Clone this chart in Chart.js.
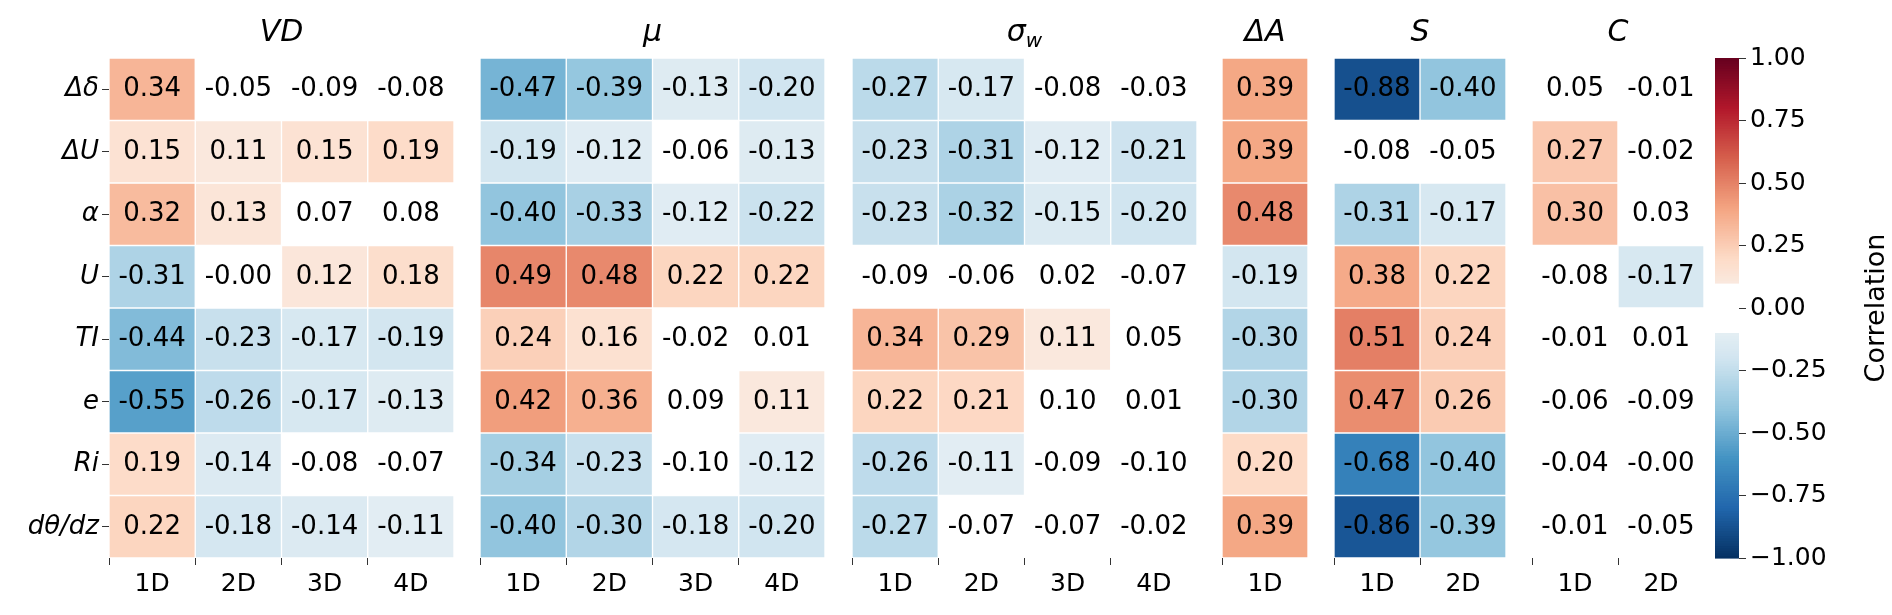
<!DOCTYPE html>
<html>
<head>
<meta charset="utf-8">
<script src="https://cdn.jsdelivr.net/npm/chart.js@4.4.1/dist/chart.umd.min.js"></script>
<style>
  body { margin: 0; background: #fff; }
  #wrap { position: relative; width: 1892px; height: 615px; }
  .panel { position: absolute; top: 0; height: 615px; }
</style>
</head>
<body>
<div id="wrap"></div>
<script>
const rowLabels = ['Δδ', 'ΔU', 'α', 'U', 'TI', 'e', 'Ri', 'dθ/dz'];

const vdCols = ['1D', '2D', '3D', '4D'];
const vdValues = [
  [0.34, -0.05, -0.09, -0.08],
  [0.15, 0.11, 0.15, 0.19],
  [0.32, 0.13, 0.07, 0.08],
  [-0.31, -0.00, 0.12, 0.18],
  [-0.44, -0.23, -0.17, -0.19],
  [-0.55, -0.26, -0.17, -0.13],
  [0.19, -0.14, -0.08, -0.07],
  [0.22, -0.18, -0.14, -0.11]
];
const muCols = ['1D', '2D', '3D', '4D'];
const muValues = [
  [-0.47, -0.39, -0.13, -0.20],
  [-0.19, -0.12, -0.06, -0.13],
  [-0.40, -0.33, -0.12, -0.22],
  [0.49, 0.48, 0.22, 0.22],
  [0.24, 0.16, -0.02, 0.01],
  [0.42, 0.36, 0.09, 0.11],
  [-0.34, -0.23, -0.10, -0.12],
  [-0.40, -0.30, -0.18, -0.20]
];
const sigmaCols = ['1D', '2D', '3D', '4D'];
const sigmaValues = [
  [-0.27, -0.17, -0.08, -0.03],
  [-0.23, -0.31, -0.12, -0.21],
  [-0.23, -0.32, -0.15, -0.20],
  [-0.09, -0.06, 0.02, -0.07],
  [0.34, 0.29, 0.11, 0.05],
  [0.22, 0.21, 0.10, 0.01],
  [-0.26, -0.11, -0.09, -0.10],
  [-0.27, -0.07, -0.07, -0.02]
];
const daCols = ['1D'];
const daValues = [[0.39], [0.39], [0.48], [-0.19], [-0.30], [-0.30], [0.20], [0.39]];
const sCols = ['1D', '2D'];
const sValues = [
  [-0.88, -0.40], [-0.08, -0.05], [-0.31, -0.17], [0.38, 0.22],
  [0.51, 0.24], [0.47, 0.26], [-0.68, -0.40], [-0.86, -0.39]
];
const cCols = ['1D', '2D'];
const cValues = [
  [0.05, -0.01], [0.27, -0.02], [0.30, 0.03], [-0.08, -0.17],
  [-0.01, 0.01], [-0.06, -0.09], [-0.04, -0.00], [-0.01, -0.05]
];
const cbarTicks = [-1, -0.75, -0.5, -0.25, 0, 0.25, 0.5, 0.75, 1];
const maskLimit = 0.1;

// RdBu_r stops, -1 -> 1
const cmap = ['#053061', '#2166ac', '#4393c3', '#92c5de', '#d1e5f0', '#f7f7f7',
              '#fddbc7', '#f4a582', '#d6604d', '#b2182b', '#67001f'];
function hex(c) { return [1, 3, 5].map(i => parseInt(c.substr(i, 2), 16)); }
function colorFor(v) {
  const t = Math.max(0, Math.min(1, (v + 1) / 2)) * (cmap.length - 1);
  const i = Math.min(Math.floor(t), cmap.length - 2);
  const f = t - i;
  const a = hex(cmap[i]), b = hex(cmap[i + 1]);
  const m = a.map((x, k) => Math.round(x + (b[k] - x) * f));
  return `rgb(${m[0]},${m[1]},${m[2]})`;
}
function fmt(v) {
  const s = Math.abs(v).toFixed(2);
  return (v < 0 || Object.is(v, -0)) ? '-' + s : s;
}
// cells with |r| <= 0.10 are masked (left blank)
const shown = v => Math.abs(v) > maskLimit + 1e-9;

const FONT = 'DejaVu Sans';
Chart.defaults.font.family = FONT;
Chart.defaults.color = '#000';

const panels = [
  { title: 'VD', cols: vdCols, values: vdValues, left: 0, width: 454, yAxis: true },
  { title: 'μ', cols: muCols, values: muValues, left: 480, width: 345 },
  { title: 'σ', sub: 'w', cols: sigmaCols, values: sigmaValues, left: 852, width: 345 },
  { title: 'ΔA', cols: daCols, values: daValues, left: 1222, width: 86 },
  { title: 'S', cols: sCols, values: sValues, left: 1334, width: 172 },
  { title: 'C', cols: cCols, values: cValues, left: 1532, width: 172 }
];

const cellText = {
  id: 'cellText',
  afterDatasetsDraw(chart, args, opts) {
    const ctx = chart.ctx;
    ctx.save();
    ctx.font = `26px "${FONT}"`;
    ctx.fillStyle = '#000';
    ctx.textAlign = 'center';
    ctx.textBaseline = 'middle';
    chart.data.datasets.forEach((ds, r) => {
      chart.getDatasetMeta(r).data.forEach((bar, c) => {
        ctx.fillText(fmt(opts.values[r][c]), bar.x, (bar.y + bar.base) / 2);
      });
    });
    ctx.restore();
  }
};
const panelTitle = {
  id: 'panelTitle',
  afterDraw(chart, args, opts) {
    const ctx = chart.ctx;
    const a = chart.chartArea;
    const cx = (a.left + a.right) / 2;
    ctx.save();
    ctx.fillStyle = '#000';
    ctx.textBaseline = 'alphabetic';
    ctx.font = `italic 30px "${FONT}"`;
    const w = ctx.measureText(opts.text).width;
    let subW = 0;
    if (opts.sub) {
      ctx.font = `italic 20px "${FONT}"`;
      subW = ctx.measureText(opts.sub).width;
    }
    const x0 = cx - (w + subW) / 2;
    ctx.font = `italic 30px "${FONT}"`;
    ctx.textAlign = 'left';
    ctx.fillText(opts.text, x0, 41);
    if (opts.sub) {
      ctx.font = `italic 20px "${FONT}"`;
      ctx.fillText(opts.sub, x0 + w, 47);
    }
    ctx.restore();
  }
};

const wrap = document.getElementById('wrap');
panels.forEach(p => {
  const div = document.createElement('div');
  div.className = 'panel';
  div.style.left = p.left + 'px';
  div.style.width = p.width + 'px';
  const cv = document.createElement('canvas');
  div.appendChild(cv);
  wrap.appendChild(div);

  const datasets = rowLabels.map((lab, r) => ({
    label: lab,
    data: p.cols.map(() => 1),
    backgroundColor: p.values[r].map(v => shown(v) ? colorFor(v) : 'rgba(255,255,255,0)'),
    borderColor: '#fff',
    borderWidth: 1,
    borderSkipped: false,
    barPercentage: 1,
    categoryPercentage: 1
  }));

  const yScale = {
    display: !!p.yAxis,
    stacked: true,
    reverse: true,
    min: 0,
    max: rowLabels.length,
    grid: { drawOnChartArea: false, drawTicks: true, tickLength: 7, color: '#333' },
    border: { display: false },
    afterBuildTicks(s) { s.ticks = rowLabels.map((_, i) => ({ value: i + 0.5 })); },
    ticks: {
      font: { size: 26, style: 'italic' },
      padding: 3,
      callback: (v, i) => rowLabels[i]
    }
  };
  if (p.yAxis) yScale.afterFit = s => { s.width = 109; };

  new Chart(cv, {
    type: 'bar',
    data: { labels: p.cols, datasets },
    plugins: [cellText, panelTitle],
    options: {
      responsive: true,
      maintainAspectRatio: false,
      animation: false,
      layout: { padding: { top: 58, left: 0, right: 0, bottom: 0 } },
      plugins: {
        legend: { display: false },
        tooltip: { enabled: false },
        cellText: { values: p.values },
        panelTitle: { text: p.title, sub: p.sub }
      },
      scales: {
        x: {
          stacked: true,
          grid: { drawOnChartArea: false, drawTicks: true, tickLength: 7, color: '#333' },
          border: { display: false },
          ticks: { font: { size: 25 }, padding: 4, maxRotation: 0, autoSkip: false },
          afterFit(s) { s.height = 57; }
        },
        y: yScale
      }
    }
  });
});

// colorbar
const cbGradient = {
  id: 'cbGradient',
  beforeDatasetsDraw(chart) {
    const ctx = chart.ctx, a = chart.chartArea, y = chart.scales.y;
    const steps = 200;
    for (let i = 0; i < steps; i++) {
      const v0 = -1 + 2 * i / steps, v1 = -1 + 2 * (i + 1) / steps;
      const vm = (v0 + v1) / 2;
      if (Math.abs(vm) < maskLimit) continue;
      ctx.fillStyle = colorFor(vm);
      const p0 = y.getPixelForValue(v0), p1 = y.getPixelForValue(v1);
      ctx.fillRect(a.left, p1, a.right - a.left, p0 - p1 + 0.6);
    }
  },
  afterDraw(chart) {
    const ctx = chart.ctx, a = chart.chartArea;
    ctx.save();
    ctx.font = `27px "${FONT}"`;
    ctx.fillStyle = '#000';
    ctx.textAlign = 'center';
    ctx.textBaseline = 'middle';
    ctx.translate(a.right + 138, (a.top + a.bottom) / 2);
    ctx.rotate(-Math.PI / 2);
    ctx.fillText('Correlation', 0, 0);
    ctx.restore();
  }
};
const cbDiv = document.createElement('div');
cbDiv.className = 'panel';
cbDiv.style.left = '1715px';
cbDiv.style.width = '177px';
const cbCanvas = document.createElement('canvas');
cbDiv.appendChild(cbCanvas);
wrap.appendChild(cbDiv);
new Chart(cbCanvas, {
  type: 'bar',
  data: { labels: [''], datasets: [{ data: [0] }] },
  plugins: [cbGradient],
  options: {
    responsive: true,
    maintainAspectRatio: false,
    animation: false,
    layout: { padding: { top: 58, left: 0, right: 0, bottom: 57 } },
    plugins: { legend: { display: false }, tooltip: { enabled: false } },
    scales: {
      x: { display: false },
      y: {
        position: 'right',
        min: -1, max: 1,
        grid: { drawOnChartArea: false, drawTicks: true, tickLength: 7, color: '#333' },
        border: { display: false },
        afterBuildTicks(s) { s.ticks = cbarTicks.map(v => ({ value: v })); },
        ticks: {
          font: { size: 25 },
          padding: 4,
          callback: v => (v < 0 ? '\u2212' : '') + Math.abs(v).toFixed(2)
        },
        afterFit(s) { s.width = 153; }
      }
    }
  }
});
</script>
</body>
</html>
